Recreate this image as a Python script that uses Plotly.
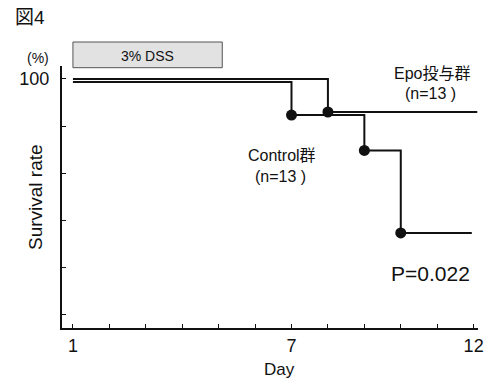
import plotly.graph_objects as go

# ---- data ----
epo_days = [1, 8, 12.1]
epo_surv = [100, 86, 86]
ctrl_days = [1, 7, 9, 10, 11.95]
ctrl_surv = [100, 86, 71, 36, 36]
dss_days = [1, 5.1]
x_tickvals = list(range(1, 13))
x_ticktext = ["1", "", "", "", "", "", "7", "", "", "", "", "12"]
y_tickvals = [0, 20, 40, 60, 80, 100]
y_ticktext = ["", "", "", "", "", "100"]

FONT = "Liberation Sans, Arial, Noto Sans CJK JP, sans-serif"
INK = "#111111"

W, H = 488, 380
L, R, T, B = 62, 10, 66, 52
PW, PH = W - L - R, H - T - B


def px(x):
    return (x - L) / PW


def py(y):
    return (H - B - y) / PH


def events(days, surv):
    ex, ey = [], []
    for i in range(1, len(surv)):
        if surv[i] < surv[i - 1]:
            ex.append(days[i])
            ey.append(surv[i])
    return ex, ey


fig = go.Figure()

# Epo group (upper of the two overlapping lines)
fig.add_trace(go.Scatter(x=epo_days, y=epo_surv, mode="lines", line_shape="hv",
                         line=dict(color=INK, width=2), yaxis="y", showlegend=False))
ex, ey = events(epo_days, epo_surv)
fig.add_trace(go.Scatter(x=ex, y=ey, mode="markers", marker=dict(color=INK, size=11),
                         yaxis="y", showlegend=False))

# Control group, drawn on an overlaid axis shifted a few pixels so the lines stay visible
fig.add_trace(go.Scatter(x=ctrl_days, y=ctrl_surv, mode="lines", line_shape="hv",
                         line=dict(color=INK, width=2), yaxis="y2", showlegend=False))
cx, cy = events(ctrl_days, ctrl_surv)
fig.add_trace(go.Scatter(x=cx, y=cy, mode="markers", marker=dict(color=INK, size=11),
                         yaxis="y2", showlegend=False))

YR = [-5.6, 105.5]
SHIFT = 1.3

fig.update_layout(
    width=W, height=H,
    margin=dict(l=L, r=R, t=T, b=B, autoexpand=False),
    paper_bgcolor="white", plot_bgcolor="white",
    font=dict(family=FONT, color=INK, size=16),
    xaxis=dict(range=[0.7, 12.12], showgrid=False, zeroline=False, automargin=False,
               showline=True, linecolor=INK, linewidth=2,
               ticks="inside", ticklen=4, tickwidth=1.2, tickcolor=INK,
               tickvals=x_tickvals, ticktext=x_ticktext,
               tickfont=dict(size=18, family=FONT)),
    yaxis=dict(range=YR, showgrid=False, zeroline=False, automargin=False,
               showline=True, linecolor=INK, linewidth=2,
               ticks="inside", ticklen=4, tickwidth=1.2, tickcolor=INK,
               tickvals=y_tickvals, ticktext=y_ticktext,
               tickfont=dict(size=18, family=FONT), ticklabelstandoff=7),
    yaxis2=dict(range=[YR[0] + SHIFT, YR[1] + SHIFT], overlaying="y", visible=False,
                automargin=False),
)

# DSS bar above the plot
fig.add_shape(type="rect", xref="x", yref="paper",
              x0=dss_days[0], x1=dss_days[1], y0=py(67.7), y1=py(42),
              line=dict(color="#555555", width=1), fillcolor="#e2e2e2")


def ann(text, x, y, size, xref="paper", **kw):
    fig.add_annotation(text=text, x=x, y=y, xref=xref, yref="paper", showarrow=False,
                       xanchor="center", yanchor="middle",
                       font=dict(size=size, family=FONT, color=INK), **kw)


ann("3% DSS", sum(dss_days) / 2, py(56), 14, xref="x")
ann("図4", px(30), py(18), 19)
ann("(%)", px(38), py(58), 14)
ann("Survival rate", px(35), py(197), 19, textangle=-90)
ann("Day", px(279), py(369), 17)
ann("Epo投与群", px(432), py(73), 16)
ann("(n=13 )", px(430), py(93), 16)
ann("Control群", px(282), py(155), 16)
ann("(n=13 )", px(280), py(176), 16)
ann("P=0.022", px(430), py(273), 21)

fig.write_html(
    "out.html",
    config={"displayModeBar": False},
    post_script="document.body.style.margin='0';document.body.style.overflow='hidden';",
)
